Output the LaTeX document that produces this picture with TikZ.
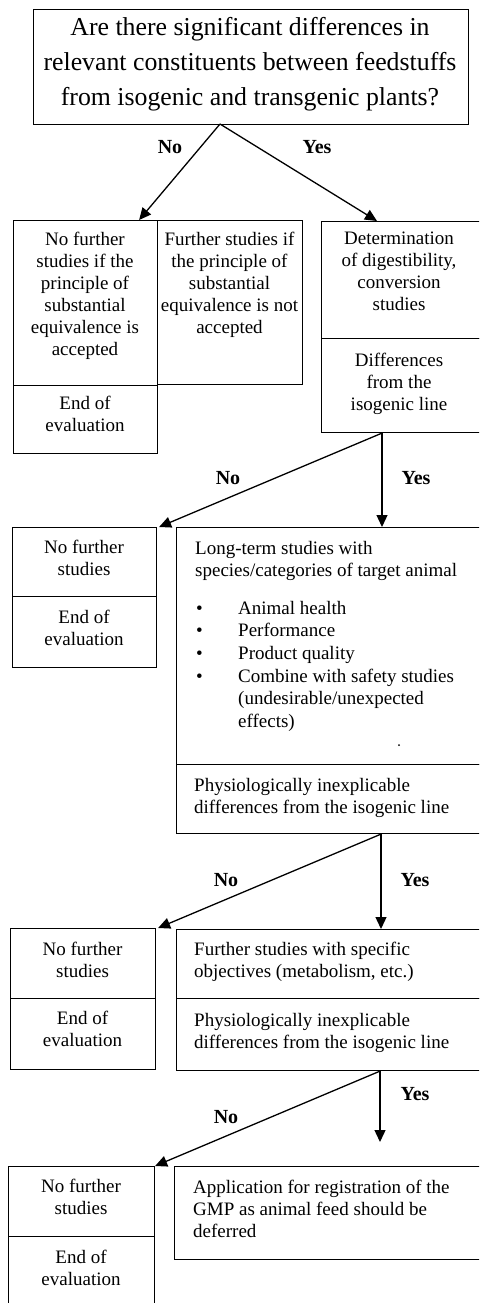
\documentclass[tikz,border=0pt]{standalone}
\usepackage{fontspec}
\setmainfont{Liberation Serif}
\usetikzlibrary{arrows.meta,calc}
\newcommand\mybox[5]{\node[box, minimum width=#4pt, minimum height=#5pt] (#1) at (#2,#3) {};}
\begin{document}
\begin{tikzpicture}[x=1pt,y=-1pt,
  box/.style={draw, line width=1.1pt, inner sep=0pt, anchor=north west},
  txt/.style={font=\fontsize{19}{22}\selectfont, inner sep=0pt, anchor=north, align=center},
  ltxt/.style={font=\fontsize{19}{22}\selectfont, inner sep=0pt, anchor=north west, align=left},
  lab/.style={font=\fontsize{20}{24}\selectfont\bfseries, inner sep=0pt},
  arr/.style={line width=1.3pt, -{Triangle[width=11pt,length=12pt]}}]
\useasboundingbox (0,0) rectangle (479,1303);
\clip (0,0) rectangle (479,1303);
% boxes
\mybox{title}{33}{9}{435}{115}
\mybox{Ltop}{13}{220}{144}{165}
\mybox{Lend}{13}{385}{144}{68}
\mybox{M}{157}{220}{145}{164}
\mybox{Rtop}{321}{221}{162}{117}
\mybox{Rbot}{321}{338}{162}{94}
\mybox{Lb3}{12}{527}{144}{69}
\mybox{Le3}{12}{596}{144}{71}
\mybox{Rt3}{176}{527}{307}{237}
\mybox{Rb3}{176}{764}{307}{69}
\mybox{Lb4}{10}{928}{145}{70}
\mybox{Le4}{10}{998}{145}{71}
\mybox{Rt4}{176}{929}{307}{69}
\mybox{Rb4}{176}{998}{307}{72}
\mybox{Lb5}{8}{1166}{146}{70}
\mybox{Le5}{8}{1236}{146}{80}
\mybox{Rt5}{174}{1166}{309}{93}
% texts
\node[txt, font=\fontsize{25.8}{35}\selectfont] (ttl) at (250,17) {Are there significant differences in\\relevant constituents between feedstuffs\\from isogenic and transgenic plants?};
\node[txt] (tLtop) at (85,232) {No further\\studies if the\\principle of\\substantial\\equivalence is\\accepted};
\node[txt] (tLend) at (85,396) {End of\\evaluation};
\node[txt] (tM) at (229.5,232) {Further studies if\\the principle of\\substantial\\equivalence is not\\accepted};
\node[txt] (tRtop) at (399,232) {Determination\\of digestibility,\\conversion\\studies};
\node[txt] (tRbot) at (399,353) {Differences\\from the\\isogenic line};
\node[txt] (tLb3) at (84,540) {No further\\studies};
\node[txt] (tLe3) at (84,610) {End of\\evaluation};
\node[ltxt] (tRt3) at (195,541) {Long-term studies with\\species/categories of target animal};
\node[ltxt, font=\fontsize{19}{22.6}\selectfont] (tRl3) at (196,601) {\makebox[42pt][l]{•}Animal health\\\makebox[42pt][l]{•}Performance\\\makebox[42pt][l]{•}Product quality\\\makebox[42pt][l]{•}Combine with safety studies\\\hspace*{42pt}(undesirable/unexpected\\\hspace*{42pt}effects)};
\node[ltxt] (tRb3) at (194,778) {Physiologically inexplicable\\differences from the isogenic line};
\node[txt] (tLb4) at (82.5,942) {No further\\studies};
\node[txt] (tLe4) at (82.5,1011) {End of\\evaluation};
\node[ltxt] (tRt4) at (194,942) {Further studies with specific\\objectives (metabolism, etc.)};
\node[ltxt] (tRb4) at (194,1013) {Physiologically inexplicable\\differences from the isogenic line};
\node[txt] (tLb5) at (81,1179) {No further\\studies};
\node[txt] (tLe5) at (81,1250) {End of\\evaluation};
\node[ltxt] (tRt5) at (193,1180) {Application for registration of the\\GMP as animal feed should be\\deferred};
\fill (399,745) circle (1pt);
% connectors
\coordinate (a0) at (220,124);
\draw[arr] (a0) -- ([xshift=-19pt]Ltop.north east);
\draw[arr] (a0) -- ([xshift=56pt]Rtop.north west);
\coordinate (a1) at ([xshift=61pt]Rbot.south west);
\draw[arr] (a1) -- ([xshift=2pt]Lb3.north east);
\draw[arr] (a1) -- (a1 |- Rt3.north);
\coordinate (a2) at ([xshift=205pt]Rb3.south west);
\draw[arr] (a2) -- ([xshift=2pt]Lb4.north east);
\draw[arr] (a2) -- (a2 |- Rt4.north);
\coordinate (a3) at ([xshift=204pt]Rb4.south west);
\coordinate (e3) at (380,1142);
\draw[arr] (a3) -- (e3);
\draw[arr] (a3) -- (Lb5.north east);
% labels
\node[lab] (n1) at (170,147) {No};
\node[lab] (y1) at (317,147) {Yes};
\node[lab] (n2) at (228,478) {No};
\node[lab] (y2) at (416,478) {Yes};
\node[lab] (n3) at (226,880) {No};
\node[lab] (y3) at (415,880) {Yes};
\node[lab] (y4) at (415,1094) {Yes};
\node[lab] (n4) at (226,1117) {No};
\end{tikzpicture}
\end{document}
